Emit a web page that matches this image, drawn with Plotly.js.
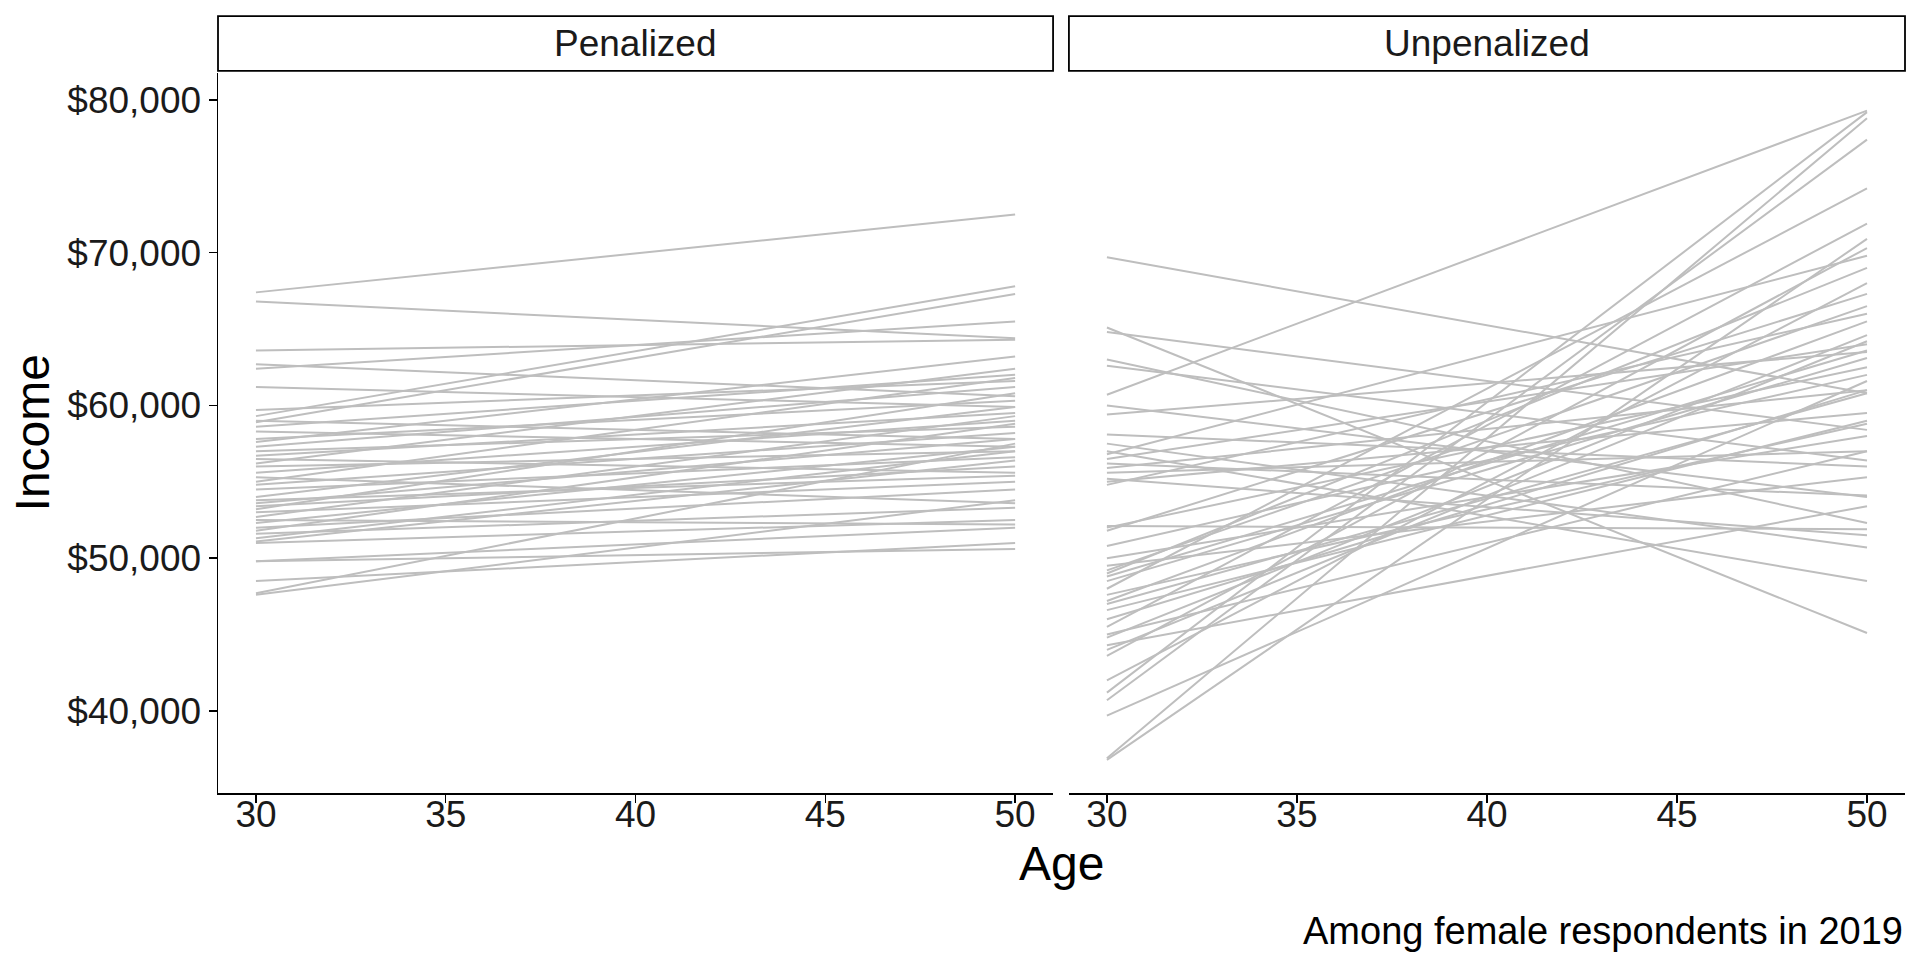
<!DOCTYPE html>
<html><head><meta charset="utf-8">
<script src="https://cdn.plot.ly/plotly-3.0.1.min.js"></script>
<style>html,body{margin:0;padding:0;background:#fff}#c{width:1920px;height:960px}</style>
</head><body><div id="c"></div>
<script>
const ages = [30, 50];
const panels = ["Penalized", "Unpenalized"];
const penStart = [67.4,66.8,63.6,62.7,62.4,61.2,59.7,59.3,58.9,58.6,58.3,57.6,57.3,57.0,56.7,56.5,56.2,56.0,55.6,55.3,54.8,54.5,54.0,53.6,53.4,53.2,53.0,52.7,52.5,52.3,52.0,51.8,51.6,51.3,51.1,51.0,49.8,49.8,48.5,47.7,47.6,53.8,55.0,57.8,59.0];
const penEnd   = [72.5,64.4,64.3,60.6,65.5,59.9,61.6,67.8,67.3,62.0,57.3,63.2,61.2,58.6,59.5,55.6,62.4,57.0,59.0,53.6,58.2,56.6,59.9,57.8,56.0,60.8,55.0,59.3,52.2,57.3,54.5,58.8,53.3,57.0,56.4,52.5,52.0,50.6,51.0,57.5,53.8,55.4,61.8,60.3,57.8];
const unpStart = [69.7,65.1,64.8,63.0,62.6,60.7,59.4,58.1,57.0,56.5,56.2,55.9,55.6,55.2,54.8,52.1,51.8,50.8,49.5,49.0,48.5,48.0,47.6,47.2,46.6,45.5,44.8,44.3,43.6,42.0,41.2,40.7,39.7,36.9,36.8,57.5,56.8,48.8,47.0,45.0,52.0,49.2,46.0,60.0,55.0,44.0,50.0];
const unpEnd   = [60.8,45.1,58.4,52.3,56.4,79.3,63.5,56.0,48.5,64.0,54.1,61.0,57.0,51.5,66.0,51.9,67.3,62.0,55.3,69.0,63.1,74.2,58.8,65.5,59.0,71.9,64.6,53.4,70.3,68.0,79.2,77.4,61.6,78.8,70.9,50.7,69.8,63.6,60.8,57.0,62.5,66.5,61.0,54.0,59.5,64.2,58.0];
const yTickVals = [40000, 50000, 60000, 70000, 80000];
const yTickText = ["$40,000", "$50,000", "$60,000", "$70,000", "$80,000"];
const xTickVals = [30, 35, 40, 45, 50];

const lineStyle = {color: "#bebebe", width: 2};
const traces = [];
function addLines(starts, ends, xa, ya) {
  for (let i = 0; i < starts.length; i++) {
    traces.push({x: ages, y: [starts[i]*1000, ends[i]*1000], xaxis: xa, yaxis: ya,
      mode: "lines", line: lineStyle, hoverinfo: "skip", showlegend: false});
  }
}
addLines(penStart, penEnd, "x", "y");
addLines(unpStart, unpEnd, "x2", "y2");

const font = {family: "Liberation Sans, Arial, sans-serif", color: "#000"};
const xBase = {range: [29, 51], tickvals: xTickVals, ticks: "outside", ticklen: 8, tickwidth: 1.5,
  tickcolor: "#000", showline: true, linecolor: "#000", linewidth: 1.5, showgrid: false, zeroline: false,
  tickfont: {size: 37, color: "#1a1a1a"}, ticklabelstandoff: -20, fixedrange: true};
const yRange = [34630, 81760];

const d1 = [0, 0.495], d2 = [0.5044, 1];
const layout = {
  width: 1920, height: 960, paper_bgcolor: "#fff", plot_bgcolor: "#fff",
  margin: {l: 218, r: 15, t: 73, b: 167},
  font: font,
  xaxis: Object.assign({}, xBase, {domain: d1, anchor: "y"}),
  xaxis2: Object.assign({}, xBase, {domain: d2, anchor: "y2"}),
  yaxis: {range: yRange, tickvals: yTickVals, ticktext: yTickText, ticks: "outside", ticklen: 8, tickwidth: 1.5,
    tickcolor: "#000", showline: true, linecolor: "#000", linewidth: 1.5, showgrid: false, zeroline: false,
    tickfont: {size: 37, color: "#1a1a1a"}, anchor: "x", domain: [0, 1]},
  yaxis2: {range: yRange, showticklabels: false, ticks: "", showline: false, showgrid: false, zeroline: false,
    anchor: "x2", domain: [0, 1]},
  shapes: [
    {type: "rect", xref: "paper", yref: "paper", x0: d1[0], x1: d1[1], y0: 1.003, y1: 1.079,
      line: {color: "#000", width: 1.8}, fillcolor: "#fff"},
    {type: "rect", xref: "paper", yref: "paper", x0: d2[0], x1: d2[1], y0: 1.003, y1: 1.079,
      line: {color: "#000", width: 1.8}, fillcolor: "#fff"}
  ],
  annotations: [
    {text: panels[0], xref: "paper", yref: "paper", x: (d1[0]+d1[1])/2, y: 1.041, showarrow: false,
      font: {size: 37, color: "#1a1a1a"}, xanchor: "center", yanchor: "middle"},
    {text: panels[1], xref: "paper", yref: "paper", x: (d2[0]+d2[1])/2, y: 1.041, showarrow: false,
      font: {size: 37, color: "#1a1a1a"}, xanchor: "center", yanchor: "middle"},
    {text: "Age", xref: "paper", yref: "paper", x: 0.5, y: -0.098, showarrow: false,
      font: {size: 48}, xanchor: "center", yanchor: "middle"},
    {text: "Income", xref: "paper", yref: "paper", x: -0.110, y: 0.5, showarrow: false, textangle: -90,
      font: {size: 48}, xanchor: "center", yanchor: "middle"},
    {text: "Among female respondents in 2019", xref: "paper", yref: "paper", x: 1, y: -0.192, showarrow: false,
      font: {size: 38}, xanchor: "right", yanchor: "middle"}
  ]
};
Plotly.newPlot("c", traces, layout, {staticPlot: true});
</script></body></html>
